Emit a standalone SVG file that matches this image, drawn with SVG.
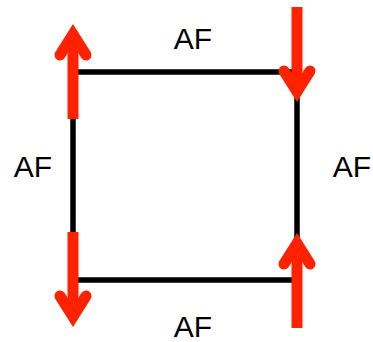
<svg xmlns="http://www.w3.org/2000/svg" width="373" height="342" viewBox="0 0 373 342">
<style>
.edge{stroke:#000;stroke-width:5.5;fill:none;stroke-linecap:butt}
.shaft{stroke:#ff2200;stroke-width:11;fill:none;stroke-linecap:butt}
.head{stroke:#ff2200;stroke-width:11;fill:none;stroke-linecap:round;stroke-linejoin:miter;stroke-miterlimit:10}
.lbl{font-family:"Liberation Sans",Arial,sans-serif;font-size:30px;fill:#000;text-anchor:middle}
</style>
<rect width="373" height="342" fill="#fff"/>
<g id="connectors">
<path class="edge" d="M73,72 H297 V280 H73 Z"/>
</g>
<g id="arrow-top-left">
<line class="shaft" x1="73" y1="119" x2="73" y2="42"/>
<polyline class="head" points="60,55 73,34.4 86,55"/>
</g>
<g id="arrow-top-right">
<line class="shaft" x1="297" y1="7" x2="297" y2="84"/>
<polyline class="head" points="284,71 297,91.6 310,71"/>
</g>
<g id="arrow-bottom-left">
<line class="shaft" x1="73" y1="232" x2="73" y2="309"/>
<polyline class="head" points="60,296 73,316.6 86,296"/>
</g>
<g id="arrow-bottom-right">
<line class="shaft" x1="297" y1="328" x2="297" y2="251"/>
<polyline class="head" points="284,264 297,243.4 310,264"/>
</g>
<g id="labels">
<text class="lbl" x="193" y="49">AF</text>
<text class="lbl" x="33" y="177">AF</text>
<text class="lbl" x="352" y="177">AF</text>
<text class="lbl" x="193" y="337">AF</text>
</g>
</svg>
